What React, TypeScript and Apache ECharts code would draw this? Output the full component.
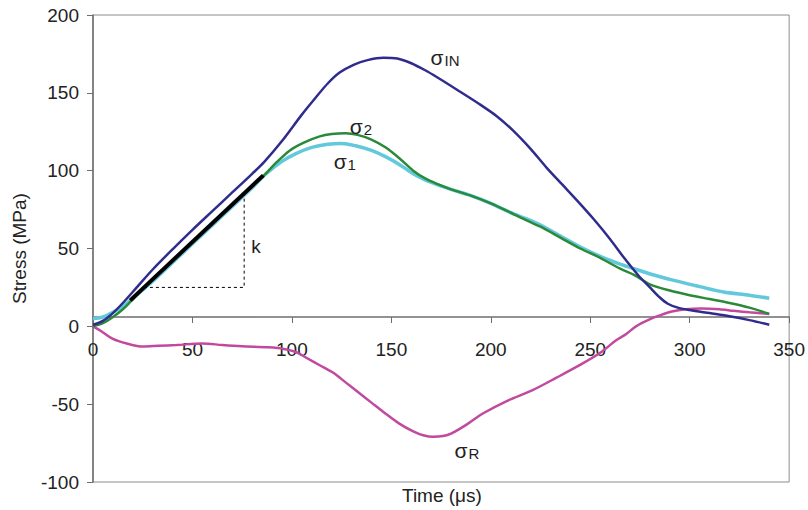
import React, { useEffect, useRef } from "react";
import * as echarts from "echarts";

// Incident stress σIN (time in µs, stress in MPa)
const tIN = [0, 5, 10, 15, 22, 30, 40, 50, 60, 70, 80, 86, 95, 105, 112, 118, 124, 131, 138, 146, 153, 160, 167, 173, 183, 194, 203, 211, 220, 228, 236, 244, 252, 260, 267, 274, 280, 285, 289, 294, 300, 310, 320, 330, 340];
const sIN = [1, 3.5, 8.5, 15, 25, 36.5, 49.5, 62, 74, 86, 98, 105.5, 119, 136, 147, 156, 163, 168, 171, 172.5, 172, 169, 164.5, 160, 152, 143, 135, 126, 114, 102, 91, 80, 68.5, 56, 44, 33, 25, 18.5, 14.5, 12, 10.5, 8.5, 6.5, 4, 1];

// Specimen stress σ2
const t2 = [0, 5, 10, 15, 19, 30, 40, 50, 60, 70, 80, 86, 92, 99, 106, 114, 120, 127, 133, 140, 147, 154, 161, 167, 173, 180, 190, 200, 210, 218, 225, 235, 245, 255, 265, 272, 280, 290, 300, 310, 320, 330, 340];
const s2 = [0, 2, 6, 11, 16, 30, 42, 54, 66, 78, 90, 97, 105, 113, 118, 122, 123.5, 124, 123, 120, 115, 108, 100, 95, 91.5, 88, 84, 79, 73, 68, 64, 57, 50, 44, 37, 33, 27, 23, 20, 17.5, 15, 12, 8];

// Specimen stress σ1
const t1 = [0, 5, 10, 15, 20, 30, 40, 50, 60, 70, 80, 87, 95, 102, 110, 118, 125, 132, 140, 147, 154, 161, 167, 173, 180, 190, 200, 210, 218, 225, 235, 245, 255, 265, 272, 282, 292, 305, 317, 330, 340];
const s1 = [5, 6, 9, 13, 18, 29, 41, 53, 65, 77, 89, 98, 106, 111, 115, 117, 117.5, 116, 113, 109, 104, 98, 94, 91, 88, 84, 79, 73, 69, 65, 58, 51, 45, 40, 37, 33, 29.5, 25.5, 22, 20, 18];

// Reflected stress σR
const tR = [0, 4, 10, 17, 25, 33, 42, 55, 65, 75, 88, 96, 102, 107, 114, 121, 127, 134, 140, 147, 154, 161, 166, 171, 176, 180, 188, 196, 208, 221, 233, 246, 255, 263, 268, 273, 279, 285, 291, 298, 306, 315, 322, 330, 340];
const sR = [0, -3, -8, -11, -13, -12.5, -12, -11, -12, -12.8, -13.5, -14.5, -16.5, -20, -25, -30, -36, -43, -49, -56, -62.5, -67.5, -70, -71, -70.5, -69, -63, -56, -48, -41, -33, -24, -17, -9, -5, 0, 4, 7, 9.5, 11, 11.5, 11, 10, 9, 8];

// Linear fit segment (slope k) and its dashed slope triangle
const fitT = [18.7, 85.6];
const fitS = [16.7, 97];
const kT = [25.6, 76, 76];
const kS = [25, 25, 85.5];

// Curve labels: [time, stress]
const labelIN = [177, 172.8];
const label2 = [134.7, 128.5];
const label1 = [126.6, 106];
const labelR = [188, -79.6];
const labelK = [82, 51];

const xTicks = { min: 0, max: 350, interval: 50 };
const yTicks = { min: -100, max: 200, interval: 50 };

const zip = (a: number[], b: number[]) => a.map((v, i) => [v, b[i]]);

const FONT = "'Liberation Sans', Arial, sans-serif";
const TEXT = "#222";
const WIDTH = 808;
const HEIGHT = 510;
const GRID = { left: 93, right: 18, top: 15, bottom: 28 };

const sigmaLabel = (sub: string, pos: number[]) => ({
  symbol: "circle",
  symbolSize: 0,
  silent: true,
  data: [{ coord: pos }],
  label: {
    show: true,
    position: "inside",
    formatter: `{a|σ}{b|${sub}}`,
    rich: {
      a: { fontSize: 21, fontFamily: FONT, color: TEXT, verticalAlign: "bottom", lineHeight: 22 },
      b: { fontSize: 15, fontFamily: FONT, color: TEXT, verticalAlign: "bottom", lineHeight: 16, padding: [0, 0, 0, 1] },
    },
  },
});

export default function App() {
  const ref = useRef<HTMLDivElement>(null);

  useEffect(() => {
    if (!ref.current) return;
    const chart = echarts.init(ref.current, null, { renderer: "svg" });
    chart.setOption({
      animation: false,
      backgroundColor: "#ffffff",
      grid: {
        ...GRID,
        show: true,
        borderColor: "#8c8c8c",
        borderWidth: 1,
        backgroundColor: "transparent",
      },
      xAxis: {
        type: "value",
        ...xTicks,
        axisLine: { onZero: false, lineStyle: { color: "#6e6e6e", width: 1.5 } },
        axisTick: { show: true, length: 6, lineStyle: { color: "#6e6e6e" } },
        axisLabel: { fontSize: 19, fontFamily: FONT, color: TEXT, margin: 23 },
        splitLine: { show: false },
      },
      yAxis: {
        type: "value",
        ...yTicks,
        name: "Stress (MPa)",
        nameLocation: "middle",
        nameGap: 64,
        nameTextStyle: { fontSize: 19, fontFamily: FONT, color: TEXT },
        axisLine: { show: true, onZero: false, lineStyle: { color: "#6e6e6e", width: 1.5 } },
        axisTick: { show: true, length: 6, lineStyle: { color: "#6e6e6e" } },
        axisLabel: { fontSize: 19, fontFamily: FONT, color: TEXT, margin: 14 },
        splitLine: { show: false },
      },
      graphic: [
        {
          type: "text",
          left: 402,
          top: 486,
          style: { text: "Time (μs)", fontSize: 19, fontFamily: FONT, fill: TEXT },
        },
      ],
      series: [
        {
          name: "σR",
          type: "line",
          data: zip(tR, sR),
          showSymbol: false,
          smooth: 0.3,
          lineStyle: { color: "#c24a9e", width: 2.5 },
          markPoint: sigmaLabel("R", labelR),
        },
        {
          name: "σ1",
          type: "line",
          data: zip(t1, s1),
          showSymbol: false,
          smooth: 0.3,
          lineStyle: { color: "#62c8dc", width: 3.5 },
          markPoint: sigmaLabel("1", label1),
        },
        {
          name: "σ2",
          type: "line",
          data: zip(t2, s2),
          showSymbol: false,
          smooth: 0.3,
          lineStyle: { color: "#2a8a3a", width: 2.5 },
          markPoint: sigmaLabel("2", label2),
        },
        {
          name: "σIN",
          type: "line",
          data: zip(tIN, sIN),
          showSymbol: false,
          smooth: 0.3,
          lineStyle: { color: "#302c8e", width: 2.5 },
          markPoint: sigmaLabel("IN", labelIN),
        },
        {
          name: "fit",
          type: "line",
          data: zip(fitT, fitS),
          showSymbol: false,
          lineStyle: { color: "#000000", width: 4 },
        },
        {
          name: "k",
          type: "line",
          data: zip(kT, kS),
          showSymbol: false,
          lineStyle: { color: "#000000", width: 1, type: [3, 3] },
          markPoint: {
            symbol: "circle",
            symbolSize: 0,
            silent: true,
            data: [{ coord: labelK }],
            label: { show: true, position: "inside", formatter: "k", fontSize: 19, fontFamily: FONT, color: TEXT },
          },
        },
      ],
    });

    // Move the time axis (line, ticks and labels) up to stress = 0
    const zeroY = chart.convertToPixel({ yAxisIndex: 0 }, 0) as number;
    const bottomY = HEIGHT - GRID.bottom;
    chart.setOption({ xAxis: { offset: zeroY - bottomY } });

    return () => chart.dispose();
  }, []);

  return (
    <div
      ref={ref}
      style={{ position: "fixed", left: 0, top: 0, width: WIDTH, height: HEIGHT, background: "#fff" }}
    />
  );
}
